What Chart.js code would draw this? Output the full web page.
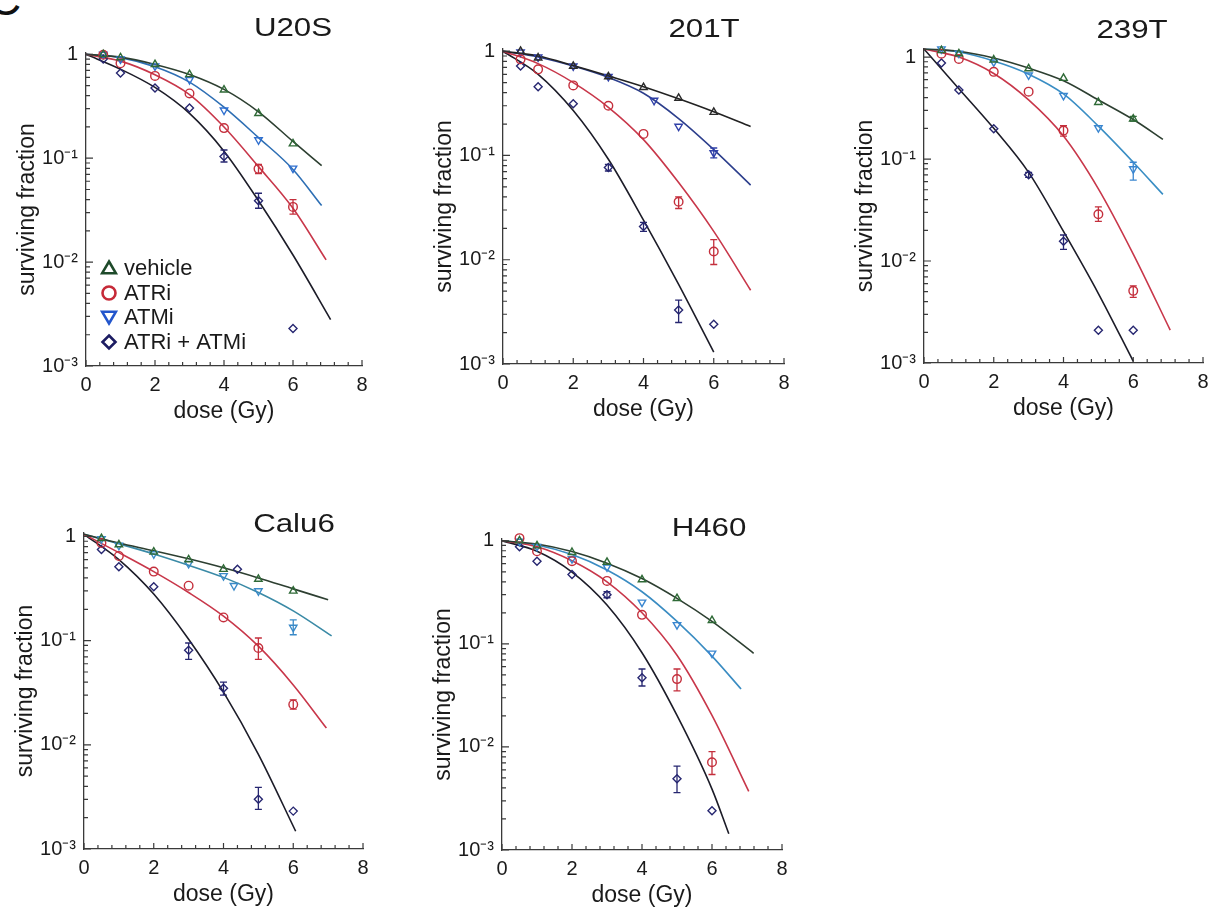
<!DOCTYPE html>
<html lang="en">
<head>
<meta charset="UTF-8">
<title>Surviving fraction vs dose</title>
<script src="https://cdn.jsdelivr.net/npm/chart.js@4.4.1/dist/chart.umd.min.js"></script>
<style>
  body { margin: 0; background: #fff; font-family: 'Liberation Sans', Arial, sans-serif; }
  #page { position: relative; width: 1215px; height: 920px; overflow: hidden; background: #fff; }
  canvas { position: absolute; }
  .title { position: absolute; font-size: 25px; color: #1a1a1a; white-space: nowrap;
           transform: translate(-50%, -50%) scaleX(1.25); }
  .corner { position: absolute; left: -12px; top: -24px; font-size: 46px; line-height: 46px; color: #111; }
</style>
</head>
<body>
<div id="page">
  <div class="corner">C</div>
</div>
<script>
// ---- data: [dose (Gy), surviving fraction] ----
const Y_TICKS = [0.001, 0.01, 0.1, 1];
const Y_LABELS = ['10⁻³', '10⁻²', '10⁻¹', '1'];
const X_TICKS = [0, 2, 4, 6, 8];
const LEGEND_LABELS = ['vehicle', 'ATRi', 'ATMi', 'ATRi + ATMi'];

// U20S
const U20S_VEHICLE = [[0.5, 1.0], [1, 0.93], [2, 0.80], [3, 0.64], [4, 0.455], [5, 0.27], [6, 0.138]];
const U20S_ATRI = [[0.5, 0.99], [1, 0.82], [2, 0.62], [3, 0.42], [4, 0.195], [5, 0.079], [6, 0.034]];
const U20S_ATMI = [[0.5, 1.0], [1, 0.90], [2, 0.77], [3, 0.57], [4, 0.29], [5, 0.15], [6, 0.08]];
const U20S_COMBO = [[0.5, 0.9], [1, 0.66], [2, 0.475], [3, 0.305], [4, 0.104], [5, 0.039], [6, 0.0023]];
const U20S_ATRI_ERR = [[5, 0.071, 0.087], [6, 0.029, 0.040]];
const U20S_COMBO_ERR = [[4, 0.092, 0.12], [5, 0.033, 0.046]];
const U20S_FIT_VEHICLE = [[0, 1.0], [1, 0.94], [2, 0.80], [3, 0.64], [4, 0.46], [5, 0.28], [6, 0.145], [6.83, 0.085]];
const U20S_FIT_ATRI = [[0, 1.0], [1, 0.86], [2, 0.635], [3, 0.41], [4, 0.20], [5, 0.083], [6, 0.033], [6.96, 0.0105]];
const U20S_FIT_ATMI = [[0, 1.0], [1, 0.93], [2, 0.76], [3, 0.54], [4, 0.31], [5, 0.158], [6, 0.078], [6.83, 0.035]];
const U20S_FIT_COMBO = [[0, 1.0], [1, 0.72], [2, 0.48], [3, 0.27], [4, 0.117], [5, 0.039], [6, 0.0117], [7.09, 0.0028]];

// 201T
const T201_VEHICLE = [[0.5, 1.0], [1, 0.865], [2, 0.72], [3, 0.57], [4, 0.45], [5, 0.355], [6, 0.26]];
const T201_ATRI = [[0.5, 0.835], [1, 0.67], [2, 0.47], [3, 0.30], [4, 0.161], [5, 0.036], [6, 0.012]];
const T201_ATMI = [[0.5, 0.98], [1, 0.88], [2, 0.72], [3, 0.57], [4.3, 0.337], [5, 0.19], [6, 0.106]];
const T201_COMBO = [[0.5, 0.72], [1, 0.457], [2, 0.314], [3, 0.0765], [4, 0.0208], [5, 0.0033], [6, 0.0024]];
const T201_ATRI_ERR = [[5, 0.031, 0.040], [6, 0.009, 0.0156]];
const T201_ATMI_ERR = [[6, 0.095, 0.118]];
const T201_COMBO_ERR = [[3, 0.071, 0.082], [4, 0.0187, 0.0228], [5, 0.0025, 0.0041]];
const T201_FIT_VEHICLE = [[0, 1.0], [1, 0.90], [2, 0.73], [3, 0.58], [4, 0.457], [5, 0.35], [6, 0.263], [7.05, 0.19]];
const T201_FIT_ATRI = [[0, 1.0], [1, 0.76], [2, 0.50], [3, 0.29], [4, 0.142], [5, 0.055], [6, 0.0187], [7.05, 0.0051]];
const T201_FIT_ATMI = [[0, 1.0], [1, 0.88], [2, 0.72], [3, 0.56], [4, 0.395], [5, 0.226], [6, 0.114], [7.05, 0.052]];
const T201_FIT_COMBO = [[0, 1.0], [1, 0.60], [2, 0.27], [3, 0.092], [4, 0.024], [5, 0.0058], [6, 0.0013]];

// 239T
const T239_VEHICLE = [[0.5, 1.16], [1, 1.08], [2, 0.94], [3, 0.77], [4, 0.62], [5, 0.36], [6, 0.248]];
const T239_ATRI = [[0.5, 1.08], [1, 0.96], [2, 0.716], [3, 0.458], [4, 0.19], [5, 0.0287], [6, 0.0051]];
const T239_ATMI = [[0.5, 1.2], [1, 1.09], [2, 0.895], [3, 0.665], [4, 0.42], [5, 0.202], [6, 0.08]];
const T239_COMBO = [[0.5, 0.875], [1, 0.476], [2, 0.198], [3, 0.070], [4, 0.0156], [5, 0.0021], [6, 0.0021]];
const T239_VEHICLE_ERR = [[6, 0.235, 0.262]];
const T239_ATRI_ERR = [[4, 0.168, 0.212], [5, 0.0245, 0.034], [6, 0.0044, 0.0057]];
const T239_ATMI_ERR = [[6, 0.062, 0.093]];
const T239_COMBO_ERR = [[3, 0.066, 0.074], [4, 0.013, 0.018]];
const T239_FIT_VEHICLE = [[0, 1.2], [1, 1.14], [2, 0.98], [3, 0.78], [4, 0.586], [5, 0.38], [6, 0.244], [6.85, 0.156]];
const T239_FIT_ATRI = [[0, 1.2], [1, 1.0], [2, 0.69], [3, 0.38], [4, 0.168], [5, 0.051], [6, 0.0117], [7.06, 0.0021]];
const T239_FIT_ATMI = [[0, 1.2], [1, 1.12], [2, 0.915], [3, 0.68], [4, 0.435], [5, 0.21], [6, 0.093], [6.85, 0.045]];
const T239_FIT_COMBO = [[0, 1.2], [1, 0.49], [2, 0.20], [3, 0.074], [4, 0.0195], [5, 0.0048], [6, 0.00104]];

// Calu6
const CALU6_VEHICLE = [[0.5, 0.96], [1, 0.835], [2, 0.71], [3, 0.60], [4, 0.485], [5, 0.39], [6, 0.30]];
const CALU6_ATRI = [[0.5, 0.865], [1, 0.65], [2, 0.46], [3, 0.337], [4, 0.167], [5, 0.085], [6, 0.0244]];
const CALU6_ATMI = [[0.5, 0.95], [1, 0.82], [2, 0.68], [3, 0.55], [4, 0.42], [4.3, 0.337], [5, 0.30], [6, 0.134]];
const CALU6_COMBO = [[0.5, 0.75], [1, 0.513], [2, 0.33], [3, 0.081], [4, 0.035], [4.4, 0.485], [5, 0.0030], [6, 0.00231]];
const CALU6_ATRI_ERR = [[5, 0.066, 0.106], [6, 0.022, 0.027]];
const CALU6_ATMI_ERR = [[6, 0.114, 0.158]];
const CALU6_COMBO_ERR = [[3, 0.066, 0.095], [4, 0.030, 0.040], [5, 0.0024, 0.0039]];
const CALU6_FIT_VEHICLE = [[0, 1.05], [1, 0.865], [2, 0.73], [3, 0.61], [4, 0.50], [5, 0.40], [6, 0.314], [7.0, 0.247]];
const CALU6_FIT_ATRI = [[0, 1.05], [1, 0.70], [2, 0.46], [3, 0.29], [4, 0.172], [5, 0.0885], [6, 0.0376], [6.95, 0.0145]];
const CALU6_FIT_ATMI = [[0, 1.05], [1, 0.85], [2, 0.68], [3, 0.53], [4, 0.405], [5, 0.29], [6, 0.193], [7.1, 0.111]];
const CALU6_FIT_COMBO = [[0, 1.05], [1, 0.60], [2, 0.28], [3, 0.103], [4, 0.032], [5, 0.0081], [6.07, 0.00148]];

// H460
const H460_VEHICLE = [[0.5, 1.0], [1, 0.895], [2, 0.773], [3, 0.62], [4, 0.42], [5, 0.276], [6, 0.169]];
const H460_ATRI = [[0.5, 1.06], [1, 0.79], [2, 0.634], [3, 0.408], [4, 0.191], [5, 0.0455], [6, 0.0071]];
const H460_ATMI = [[0.5, 0.985], [1, 0.88], [2, 0.667], [3, 0.555], [4, 0.253], [5, 0.153], [6, 0.081]];
const H460_COMBO = [[0.5, 0.876], [1, 0.634], [2, 0.47], [3, 0.30], [4, 0.047], [5, 0.0049], [6, 0.0024]];
const H460_ATRI_ERR = [[5, 0.035, 0.057], [6, 0.0054, 0.009]];
const H460_COMBO_ERR = [[3, 0.28, 0.32], [4, 0.039, 0.057], [5, 0.0036, 0.0065]];
const H460_FIT_VEHICLE = [[0, 1.0], [1, 0.93], [2, 0.785], [3, 0.606], [4, 0.43], [5, 0.276], [6, 0.165], [7.19, 0.081]];
const H460_FIT_ATRI = [[0, 1.0], [1, 0.875], [2, 0.64], [3, 0.40], [4, 0.20], [5, 0.0775], [6, 0.0202], [7.05, 0.0037]];
const H460_FIT_ATMI = [[0, 1.0], [1, 0.91], [2, 0.734], [3, 0.52], [4, 0.32], [5, 0.165], [6, 0.076], [6.83, 0.0365]];
const H460_FIT_COMBO = [[0, 1.0], [1, 0.79], [2, 0.497], [3, 0.238], [4, 0.082], [5, 0.0202], [6, 0.0039], [6.48, 0.00144]];

// ---- styling / layout ----
const FONT = "'Liberation Sans', Arial, sans-serif";
const AXIS_COLOR = '#3a3a3a';
const TEXT_COLOR = '#1a1a1a';
const Y_AXIS_W = 86, X_AXIS_H = 59, PAD_TOP = 16, PAD_RIGHT = 16;

const STYLE = {
  vehicle: { marker: '#2f6a37', line: '#2d3f31', pointStyle: 'triangle', rotation: 0 },
  atri:    { marker: '#c42f3c', line: '#c8374a', pointStyle: 'circle', rotation: 0 },
  atmi:    { marker: '#2f6fcf', line: '#2f7ab8', pointStyle: 'triangle', rotation: 180 },
  combo:   { marker: '#262670', line: '#1c1c28', pointStyle: 'rectRot', rotation: 0 }
};
const KEYS = ['vehicle', 'atri', 'atmi', 'combo'];

const PANELS = [
  { name: 'U20S', area: { left: 86, right: 362, top: 49, bottom: 366 }, yMax: 1.03, title: [293, 27], legend: true,
    colors: { atmiLine: '#2e6fb4' },
    points: { vehicle: U20S_VEHICLE, atri: U20S_ATRI, atmi: U20S_ATMI, combo: U20S_COMBO },
    errors: { atri: U20S_ATRI_ERR, combo: U20S_COMBO_ERR },
    fits: { vehicle: U20S_FIT_VEHICLE, atri: U20S_FIT_ATRI, atmi: U20S_FIT_ATMI, combo: U20S_FIT_COMBO } },
  { name: '201T', area: { left: 503, right: 784, top: 44.5, bottom: 364 }, yMax: 1.05, title: [704, 28],
    colors: { atmiLine: '#2c3e8c', atmiMarker: '#3040a8', vehicleMarker: '#2a2a2a', vehicleLine: '#222' },
    points: { vehicle: T201_VEHICLE, atri: T201_ATRI, atmi: T201_ATMI, combo: T201_COMBO },
    errors: { atri: T201_ATRI_ERR, atmi: T201_ATMI_ERR, combo: T201_COMBO_ERR },
    fits: { vehicle: T201_FIT_VEHICLE, atri: T201_FIT_ATRI, atmi: T201_FIT_ATMI, combo: T201_FIT_COMBO } },
  { name: '239T', area: { left: 924, right: 1203, top: 45, bottom: 363 }, yMax: 1.2, title: [1132, 29],
    colors: { atmiLine: '#3a8ec4', atmiMarker: '#3a86d0' },
    points: { vehicle: T239_VEHICLE, atri: T239_ATRI, atmi: T239_ATMI, combo: T239_COMBO },
    errors: { vehicle: T239_VEHICLE_ERR, atri: T239_ATRI_ERR, atmi: T239_ATMI_ERR, combo: T239_COMBO_ERR },
    fits: { vehicle: T239_FIT_VEHICLE, atri: T239_FIT_ATRI, atmi: T239_FIT_ATMI, combo: T239_FIT_COMBO } },
  { name: 'Calu6', area: { left: 84, right: 363, top: 528.5, bottom: 849 }, yMax: 1.08, title: [294, 523],
    colors: { atmiLine: '#3a8aa6', atmiMarker: '#3a8ac8' },
    points: { vehicle: CALU6_VEHICLE, atri: CALU6_ATRI, atmi: CALU6_ATMI, combo: CALU6_COMBO },
    errors: { atri: CALU6_ATRI_ERR, atmi: CALU6_ATMI_ERR, combo: CALU6_COMBO_ERR },
    fits: { vehicle: CALU6_FIT_VEHICLE, atri: CALU6_FIT_ATRI, atmi: CALU6_FIT_ATMI, combo: CALU6_FIT_COMBO } },
  { name: 'H460', area: { left: 502, right: 782, top: 535, bottom: 850 }, yMax: 1.04, title: [709, 527],
    colors: { atmiLine: '#3a8cc2', atmiMarker: '#3a86d0' },
    points: { vehicle: H460_VEHICLE, atri: H460_ATRI, atmi: H460_ATMI, combo: H460_COMBO },
    errors: { atri: H460_ATRI_ERR, combo: H460_COMBO_ERR },
    fits: { vehicle: H460_FIT_VEHICLE, atri: H460_FIT_ATRI, atmi: H460_FIT_ATMI, combo: H460_FIT_COMBO } }
];

// ---- plugins ----
const innerTicks = {
  id: 'innerTicks',
  afterDraw(chart) {
    const { ctx, chartArea: a, scales: { x, y } } = chart;
    ctx.save();
    ctx.strokeStyle = AXIS_COLOR;
    ctx.lineWidth = 1.2;
    ctx.beginPath();
    for (let i = 0; i <= 20; i++) {
      const px = x.getPixelForValue(i * 0.4);
      ctx.moveTo(px, a.bottom);
      ctx.lineTo(px, a.bottom - (i % 5 === 0 ? 6 : 4));
    }
    for (let e = -3; e <= 0; e++) {
      for (let m = 1; m <= 9; m++) {
        const v = m * Math.pow(10, e);
        if (v > y.max) break;
        const py = y.getPixelForValue(v);
        ctx.moveTo(a.left, py);
        ctx.lineTo(a.left + (m === 1 ? 7 : 4), py);
      }
    }
    ctx.stroke();
    ctx.restore();
  }
};

const errorBars = {
  id: 'errorBars',
  afterDatasetsDraw(chart) {
    const { ctx, scales: { x, y } } = chart;
    chart.data.datasets.forEach(ds => {
      if (!ds.errorBars) return;
      ctx.save();
      ctx.strokeStyle = ds.borderColor;
      ctx.lineWidth = 1.3;
      ds.errorBars.forEach(([d, lo, hi]) => {
        const px = x.getPixelForValue(d);
        const y0 = y.getPixelForValue(lo), y1 = y.getPixelForValue(hi);
        ctx.beginPath();
        ctx.moveTo(px, y0); ctx.lineTo(px, y1);
        ctx.moveTo(px - 3.5, y0); ctx.lineTo(px + 3.5, y0);
        ctx.moveTo(px - 3.5, y1); ctx.lineTo(px + 3.5, y1);
        ctx.stroke();
      });
      ctx.restore();
    });
  }
};

function markerPath(ctx, style, rot, cx, cy, r) {
  ctx.beginPath();
  if (style === 'circle') {
    ctx.arc(cx, cy, r, 0, Math.PI * 2);
  } else if (style === 'triangle') {
    const s = rot ? -1 : 1;
    ctx.moveTo(cx, cy - s * r);
    ctx.lineTo(cx + r * 1.05, cy + s * r * 0.8);
    ctx.lineTo(cx - r * 1.05, cy + s * r * 0.8);
    ctx.closePath();
  } else {
    ctx.moveTo(cx, cy - r); ctx.lineTo(cx + r, cy);
    ctx.lineTo(cx, cy + r); ctx.lineTo(cx - r, cy);
    ctx.closePath();
  }
}

const legendBox = {
  id: 'legendBox',
  afterDraw(chart) {
    if (!chart.options.plugins.legendBox.show) return;
    const { ctx, chartArea: a } = chart;
    const rows = [-98, -73, -49, -24];
    const legendColors = ['#1e4a2a', '#c62a38', '#2356cc', '#1c1c62'];
    ctx.save();
    KEYS.forEach((k, i) => {
      const cy = a.bottom + rows[i];
      ctx.strokeStyle = legendColors[i];
      ctx.lineWidth = 2.6;
      markerPath(ctx, STYLE[k].pointStyle, STYLE[k].rotation, a.left + 23, cy, 6.5);
      ctx.stroke();
      ctx.fillStyle = TEXT_COLOR;
      ctx.font = '22px ' + FONT;
      ctx.textBaseline = 'middle';
      ctx.fillText(LEGEND_LABELS[i], a.left + 38, cy + 1);
    });
    ctx.restore();
  }
};

// ---- build charts ----
const page = document.getElementById('page');

PANELS.forEach(p => {
  const left = p.area.left - Y_AXIS_W;
  const top = p.area.top - PAD_TOP;
  const width = p.area.right - left + PAD_RIGHT;
  const height = p.area.bottom - top + X_AXIS_H;

  const canvas = document.createElement('canvas');
  canvas.width = width; canvas.height = height;
  canvas.style.left = left + 'px'; canvas.style.top = top + 'px';
  canvas.style.width = width + 'px'; canvas.style.height = height + 'px';
  page.appendChild(canvas);

  const t = document.createElement('div');
  t.className = 'title';
  t.textContent = p.name;
  t.style.left = p.title[0] + 'px';
  t.style.top = p.title[1] + 'px';
  page.appendChild(t);

  const c = p.colors || {};
  const datasets = [];
  KEYS.forEach(k => {
    const lineColor = c[k + 'Line'] || STYLE[k].line;
    datasets.push({
      type: 'line',
      data: p.fits[k].map(([x, y]) => ({ x, y })),
      borderColor: lineColor,
      borderWidth: 1.6,
      pointRadius: 0,
      fill: false,
      cubicInterpolationMode: 'monotone',
      clip: false,
      order: 2
    });
  });
  KEYS.forEach(k => {
    const markerColor = c[k + 'Marker'] || STYLE[k].marker;
    datasets.push({
      type: 'scatter',
      data: p.points[k].map(([x, y]) => ({ x, y })),
      borderColor: markerColor,
      backgroundColor: 'rgba(255,255,255,0)',
      borderWidth: 1.4,
      pointStyle: STYLE[k].pointStyle,
      rotation: STYLE[k].rotation,
      pointRadius: k === 'combo' ? 4 : 4.3,
      errorBars: p.errors[k] || null,
      clip: false,
      order: 1
    });
  });

  new Chart(canvas, {
    data: { datasets },
    plugins: [innerTicks, errorBars, legendBox],
    options: {
      responsive: false,
      animation: false,
      events: [],
      layout: { padding: { top: PAD_TOP, right: PAD_RIGHT, left: 0, bottom: 0 } },
      plugins: {
        legend: { display: false },
        tooltip: { enabled: false },
        legendBox: { show: !!p.legend }
      },
      scales: {
        x: {
          type: 'linear', min: 0, max: 8,
          afterBuildTicks: s => { s.ticks = X_TICKS.map(v => ({ value: v })); },
          afterFit: s => { s.height = X_AXIS_H; },
          grid: { display: true, drawOnChartArea: false, drawTicks: false },
          border: { display: true, color: AXIS_COLOR, width: 1.3 },
          ticks: { font: { family: FONT, size: 20 }, color: TEXT_COLOR, padding: 7, maxRotation: 0, autoSkip: false },
          title: { display: true, text: 'dose (Gy)', font: { family: FONT, size: 23 }, color: TEXT_COLOR, padding: { top: 0, bottom: 0 } }
        },
        y: {
          type: 'logarithmic', min: 0.001, max: p.yMax,
          afterBuildTicks: s => { s.ticks = Y_TICKS.map(v => ({ value: v })); },
          afterFit: s => { s.width = Y_AXIS_W; },
          grid: { display: true, drawOnChartArea: false, drawTicks: false },
          border: { display: true, color: AXIS_COLOR, width: 1.3 },
          ticks: { font: { family: FONT, size: 20 }, color: TEXT_COLOR, padding: 8, autoSkip: false,
                   callback: (v, i) => Y_LABELS[i] },
          title: { display: true, text: 'surviving fraction', font: { family: FONT, size: 23 }, color: TEXT_COLOR, padding: { top: 14, bottom: 0 } }
        }
      }
    }
  });
});
</script>
</body>
</html>
